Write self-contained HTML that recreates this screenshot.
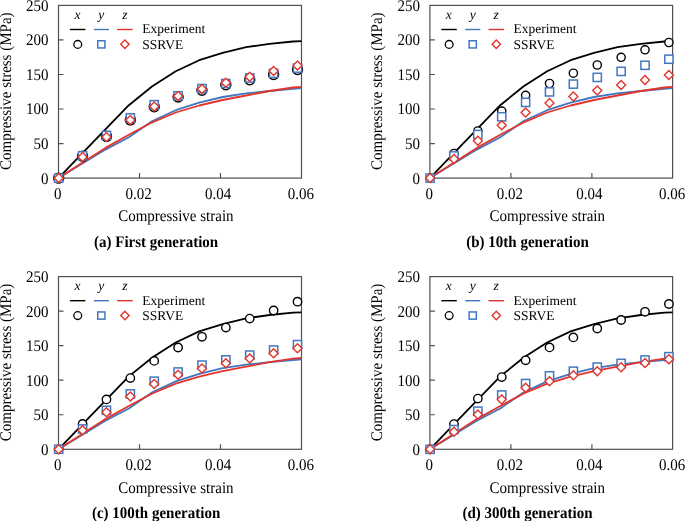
<!DOCTYPE html>
<html><head><meta charset="utf-8"><style>
html,body{margin:0;padding:0;background:#fff;}
svg{display:block;will-change:transform;}
text{text-rendering:geometricPrecision;font-family:"Liberation Serif",serif;fill:#000;}
.tl{font-size:15px;}
.lg{font-size:13.5px;}
.cap{font-size:15px;font-weight:bold;}
</style></head><body>
<svg width="685" height="521" viewBox="0 0 685 521">
<rect width="685" height="521" fill="#fff"/>
<g transform="translate(0,0)">
<rect x="58.5" y="5.4" width="243" height="172.7" fill="none" stroke="#505050" stroke-width="1.2"/>
<path d="M58.5 143.56h5 M58.5 109.02h5 M58.5 74.48h5 M58.5 39.94h5 M139.5 178.1v-5 M220.5 178.1v-5" stroke="#505050" stroke-width="1.2" fill="none"/>
<text class="tl" transform="translate(48.6,183.5) scale(1,1.08)" text-anchor="end">0</text>
<text class="tl" transform="translate(48.6,148.96) scale(1,1.08)" text-anchor="end">50</text>
<text class="tl" transform="translate(48.6,114.42) scale(1,1.08)" text-anchor="end">100</text>
<text class="tl" transform="translate(48.6,79.88) scale(1,1.08)" text-anchor="end">150</text>
<text class="tl" transform="translate(48.6,45.34) scale(1,1.08)" text-anchor="end">200</text>
<text class="tl" transform="translate(48.6,10.8) scale(1,1.08)" text-anchor="end">250</text>
<text class="tl" transform="translate(57.8,198.6) scale(1,1.08)" text-anchor="middle">0</text>
<text class="tl" transform="translate(138.55,198.6) scale(1,1.08)" text-anchor="middle">0.02</text>
<text class="tl" transform="translate(218.05,198.6) scale(1,1.08)" text-anchor="middle">0.04</text>
<text class="tl" transform="translate(300.75,198.6) scale(1,1.08)" text-anchor="middle">0.06</text>
<text class="tl" transform="translate(175.9,221.4) scale(1,1.08)" text-anchor="middle">Compressive strain</text>
<text class="tl" transform="translate(10.9,91.2) rotate(-90) scale(1,1.08)" text-anchor="middle">Compressive stress (MPa)</text>
<text class="cap" transform="translate(156.1,246.7) scale(1,1.08)" text-anchor="middle">(a) First generation</text>
<g fill="none" stroke-width="1.8" stroke-linejoin="round">
<polyline points="58.5,178.1 81.95,153.7 105.4,129.4 128.85,105.2 152.3,86.3 175.75,71.3 199.2,60.2 222.65,52.9 246.1,47.2 269.55,43.8 293,41.5 301.5,41.1" stroke="#000"/>
<polyline points="58.5,178.1 81.95,163.8 105.4,149.6 128.85,137.3 152.3,121 175.75,110.2 199.2,102.6 222.65,97 246.1,93.4 269.55,91 293,88.8 301.5,88.2" stroke="#4177C0"/>
<polyline points="58.5,178.1 81.95,163 105.4,147.9 128.85,134.8 152.3,122.3 175.75,112.5 199.2,105.5 222.65,100 246.1,95.5 269.55,91 293,87.5 301.5,86.8" stroke="#E2352B"/>
</g>
<g fill="#fff" stroke="#000" stroke-width="1.4"><circle cx="58.7" cy="178.1" r="5.0"/><circle cx="82.58" cy="156.3" r="5.0"/><circle cx="106.46" cy="136.4" r="5.0"/><circle cx="130.34" cy="119.9" r="5.0"/><circle cx="154.22" cy="106.8" r="5.0"/><circle cx="178.1" cy="97" r="5.0"/><circle cx="201.98" cy="90.3" r="5.0"/><circle cx="225.86" cy="84.7" r="5.0"/><circle cx="249.74" cy="79.8" r="5.0"/><circle cx="273.62" cy="74.5" r="5.0"/><circle cx="297.5" cy="69.5" r="5.0"/></g>
<g fill="#fff" stroke="#4177C0" stroke-width="1.5"><rect x="54.6" y="174" width="8.2" height="8.2"/><rect x="78.48" y="151.7" width="8.2" height="8.2"/><rect x="102.36" y="131.3" width="8.2" height="8.2"/><rect x="126.24" y="113.8" width="8.2" height="8.2"/><rect x="150.12" y="100.6" width="8.2" height="8.2"/><rect x="174" y="91.7" width="8.2" height="8.2"/><rect x="197.88" y="84.5" width="8.2" height="8.2"/><rect x="221.76" y="79.4" width="8.2" height="8.2"/><rect x="245.64" y="73.9" width="8.2" height="8.2"/><rect x="269.52" y="69.2" width="8.2" height="8.2"/><rect x="293.4" y="64" width="8.2" height="8.2"/></g>
<g fill="#fff" stroke="#E2352B" stroke-width="1.4"><path d="M58.7 173.6L63.2 178.1L58.7 182.6L54.2 178.1Z"/><path d="M82.58 152.4L87.08 156.9L82.58 161.4L78.08 156.9Z"/><path d="M106.46 132.5L110.96 137L106.46 141.5L101.96 137Z"/><path d="M130.34 115.6L134.84 120.1L130.34 124.6L125.84 120.1Z"/><path d="M154.22 101.9L158.72 106.4L154.22 110.9L149.72 106.4Z"/><path d="M178.1 91.6L182.6 96.1L178.1 100.6L173.6 96.1Z"/><path d="M201.98 84.4L206.48 88.9L201.98 93.4L197.48 88.9Z"/><path d="M225.86 78.3L230.36 82.8L225.86 87.3L221.36 82.8Z"/><path d="M249.74 72.3L254.24 76.8L249.74 81.3L245.24 76.8Z"/><path d="M273.62 66.5L278.12 71L273.62 75.5L269.12 71Z"/><path d="M297.5 60.9L302 65.4L297.5 69.9L293 65.4Z"/></g>
<text class="lg" transform="translate(77.4,18.9)" text-anchor="middle" font-style="italic">x</text>
<text class="lg" transform="translate(101.3,18.9)" text-anchor="middle" font-style="italic">y</text>
<text class="lg" transform="translate(124.8,18.9)" text-anchor="middle" font-style="italic">z</text>
<path d="M69.9 29.5H85.4" stroke="#000" stroke-width="1.4"/>
<path d="M93.9 29.5H108.9" stroke="#4177C0" stroke-width="1.4"/>
<path d="M117.1 29.5H132.7" stroke="#E2352B" stroke-width="1.4"/>
<circle cx="77.75" cy="44.4" r="3.9" fill="#fff" stroke="#000" stroke-width="1.3"/>
<rect x="97.75" y="40.75" width="7.2" height="7.2" fill="#fff" stroke="#4177C0" stroke-width="1.5"/>
<path d="M124.9 40.1L129.1 44.3L124.9 48.5L120.7 44.3Z" fill="#fff" stroke="#E2352B" stroke-width="1.4"/>
<text class="lg" transform="translate(142.2,33.3)">Experiment</text>
<text class="lg" transform="translate(142.2,49)">SSRVE</text>
</g>
<g transform="translate(371.4,0)">
<rect x="58.5" y="5.4" width="242.7" height="172.7" fill="none" stroke="#505050" stroke-width="1.2"/>
<path d="M58.5 143.56h5 M58.5 109.02h5 M58.5 74.48h5 M58.5 39.94h5 M139.5 178.1v-5 M220.5 178.1v-5" stroke="#505050" stroke-width="1.2" fill="none"/>
<text class="tl" transform="translate(48.6,183.5) scale(1,1.08)" text-anchor="end">0</text>
<text class="tl" transform="translate(48.6,148.96) scale(1,1.08)" text-anchor="end">50</text>
<text class="tl" transform="translate(48.6,114.42) scale(1,1.08)" text-anchor="end">100</text>
<text class="tl" transform="translate(48.6,79.88) scale(1,1.08)" text-anchor="end">150</text>
<text class="tl" transform="translate(48.6,45.34) scale(1,1.08)" text-anchor="end">200</text>
<text class="tl" transform="translate(48.6,10.8) scale(1,1.08)" text-anchor="end">250</text>
<text class="tl" transform="translate(57.8,198.6) scale(1,1.08)" text-anchor="middle">0</text>
<text class="tl" transform="translate(138.55,198.6) scale(1,1.08)" text-anchor="middle">0.02</text>
<text class="tl" transform="translate(218.05,198.6) scale(1,1.08)" text-anchor="middle">0.04</text>
<text class="tl" transform="translate(300.75,198.6) scale(1,1.08)" text-anchor="middle">0.06</text>
<text class="tl" transform="translate(175.9,221.4) scale(1,1.08)" text-anchor="middle">Compressive strain</text>
<text class="tl" transform="translate(10.9,91.2) rotate(-90) scale(1,1.08)" text-anchor="middle">Compressive stress (MPa)</text>
<text class="cap" transform="translate(156.1,246.7) scale(1,1.08)" text-anchor="middle">(b) 10th generation</text>
<g fill="none" stroke-width="1.8" stroke-linejoin="round">
<polyline points="58.5,178.1 81.95,153.7 105.4,129.4 128.85,105.2 152.3,86.3 175.75,71.3 199.2,60.2 222.65,52.9 246.1,47.2 269.55,43.8 293,41.5 301.2,41.1" stroke="#000"/>
<polyline points="58.5,178.1 81.95,163.8 105.4,149.6 128.85,137.3 152.3,121 175.75,110.2 199.2,102.6 222.65,97 246.1,93.4 269.55,91 293,88.8 301.2,88.2" stroke="#4177C0"/>
<polyline points="58.5,178.1 81.95,163 105.4,147.9 128.85,134.8 152.3,122.3 175.75,112.5 199.2,105.5 222.65,100 246.1,95.5 269.55,91 293,87.5 301.2,86.8" stroke="#E2352B"/>
</g>
<g fill="#fff" stroke="#000" stroke-width="1.4"><circle cx="58.7" cy="178.1" r="4.1"/><circle cx="82.58" cy="153.5" r="4.1"/><circle cx="106.46" cy="131" r="4.1"/><circle cx="130.34" cy="111.1" r="4.1"/><circle cx="154.22" cy="95.3" r="4.1"/><circle cx="178.1" cy="83.5" r="4.1"/><circle cx="201.98" cy="73.2" r="4.1"/><circle cx="225.86" cy="65" r="4.1"/><circle cx="249.74" cy="57.3" r="4.1"/><circle cx="273.62" cy="49.8" r="4.1"/><circle cx="297.5" cy="42.5" r="4.1"/></g>
<g fill="#fff" stroke="#4177C0" stroke-width="1.5"><rect x="54.6" y="174" width="8.2" height="8.2"/><rect x="78.48" y="151.8" width="8.2" height="8.2"/><rect x="102.36" y="130.4" width="8.2" height="8.2"/><rect x="126.24" y="112.7" width="8.2" height="8.2"/><rect x="150.12" y="98.3" width="8.2" height="8.2"/><rect x="174" y="87.8" width="8.2" height="8.2"/><rect x="197.88" y="80" width="8.2" height="8.2"/><rect x="221.76" y="73.3" width="8.2" height="8.2"/><rect x="245.64" y="67.3" width="8.2" height="8.2"/><rect x="269.52" y="61.2" width="8.2" height="8.2"/><rect x="293.4" y="55.1" width="8.2" height="8.2"/></g>
<g fill="#fff" stroke="#E2352B" stroke-width="1.4"><path d="M58.7 173.6L63.2 178.1L58.7 182.6L54.2 178.1Z"/><path d="M82.58 154.5L87.08 159L82.58 163.5L78.08 159Z"/><path d="M106.46 136.3L110.96 140.8L106.46 145.3L101.96 140.8Z"/><path d="M130.34 120.7L134.84 125.2L130.34 129.7L125.84 125.2Z"/><path d="M154.22 107.9L158.72 112.4L154.22 116.9L149.72 112.4Z"/><path d="M178.1 98.5L182.6 103L178.1 107.5L173.6 103Z"/><path d="M201.98 91.9L206.48 96.4L201.98 100.9L197.48 96.4Z"/><path d="M225.86 85.9L230.36 90.4L225.86 94.9L221.36 90.4Z"/><path d="M249.74 80.6L254.24 85.1L249.74 89.6L245.24 85.1Z"/><path d="M273.62 75.5L278.12 80L273.62 84.5L269.12 80Z"/><path d="M297.5 70.5L302 75L297.5 79.5L293 75Z"/></g>
<text class="lg" transform="translate(77.4,18.9)" text-anchor="middle" font-style="italic">x</text>
<text class="lg" transform="translate(101.3,18.9)" text-anchor="middle" font-style="italic">y</text>
<text class="lg" transform="translate(124.8,18.9)" text-anchor="middle" font-style="italic">z</text>
<path d="M69.9 29.5H85.4" stroke="#000" stroke-width="1.4"/>
<path d="M93.9 29.5H108.9" stroke="#4177C0" stroke-width="1.4"/>
<path d="M117.1 29.5H132.7" stroke="#E2352B" stroke-width="1.4"/>
<circle cx="77.75" cy="44.4" r="3.9" fill="#fff" stroke="#000" stroke-width="1.3"/>
<rect x="97.75" y="40.75" width="7.2" height="7.2" fill="#fff" stroke="#4177C0" stroke-width="1.5"/>
<path d="M124.9 40.1L129.1 44.3L124.9 48.5L120.7 44.3Z" fill="#fff" stroke="#E2352B" stroke-width="1.4"/>
<text class="lg" transform="translate(142.2,33.3)">Experiment</text>
<text class="lg" transform="translate(142.2,49)">SSRVE</text>
</g>
<g transform="translate(0,271.2)">
<rect x="58.5" y="5.4" width="243" height="172.7" fill="none" stroke="#505050" stroke-width="1.2"/>
<path d="M58.5 143.56h5 M58.5 109.02h5 M58.5 74.48h5 M58.5 39.94h5 M139.5 178.1v-5 M220.5 178.1v-5" stroke="#505050" stroke-width="1.2" fill="none"/>
<text class="tl" transform="translate(48.6,183.5) scale(1,1.08)" text-anchor="end">0</text>
<text class="tl" transform="translate(48.6,148.96) scale(1,1.08)" text-anchor="end">50</text>
<text class="tl" transform="translate(48.6,114.42) scale(1,1.08)" text-anchor="end">100</text>
<text class="tl" transform="translate(48.6,79.88) scale(1,1.08)" text-anchor="end">150</text>
<text class="tl" transform="translate(48.6,45.34) scale(1,1.08)" text-anchor="end">200</text>
<text class="tl" transform="translate(48.6,10.8) scale(1,1.08)" text-anchor="end">250</text>
<text class="tl" transform="translate(57.8,198.6) scale(1,1.08)" text-anchor="middle">0</text>
<text class="tl" transform="translate(138.55,198.6) scale(1,1.08)" text-anchor="middle">0.02</text>
<text class="tl" transform="translate(218.05,198.6) scale(1,1.08)" text-anchor="middle">0.04</text>
<text class="tl" transform="translate(300.75,198.6) scale(1,1.08)" text-anchor="middle">0.06</text>
<text class="tl" transform="translate(175.9,221.4) scale(1,1.08)" text-anchor="middle">Compressive strain</text>
<text class="tl" transform="translate(10.9,91.2) rotate(-90) scale(1,1.08)" text-anchor="middle">Compressive stress (MPa)</text>
<text class="cap" transform="translate(156.1,246.7) scale(1,1.08)" text-anchor="middle">(c) 100th generation</text>
<g fill="none" stroke-width="1.8" stroke-linejoin="round">
<polyline points="58.5,178.1 81.95,153.7 105.4,129.4 128.85,105.2 152.3,86.3 175.75,71.3 199.2,60.2 222.65,52.9 246.1,47.2 269.55,43.8 293,41.5 301.5,41.1" stroke="#000"/>
<polyline points="58.5,178.1 81.95,163.8 105.4,149.6 128.85,137.3 152.3,121 175.75,110.2 199.2,102.6 222.65,97 246.1,93.4 269.55,91 293,88.8 301.5,88.2" stroke="#4177C0"/>
<polyline points="58.5,178.1 81.95,163 105.4,147.9 128.85,134.8 152.3,122.3 175.75,112.5 199.2,105.5 222.65,100 246.1,95.5 269.55,91 293,87.5 301.5,86.8" stroke="#E2352B"/>
</g>
<g fill="#fff" stroke="#000" stroke-width="1.4"><circle cx="58.7" cy="178.1" r="4.2"/><circle cx="82.58" cy="152.7" r="4.2"/><circle cx="106.46" cy="128.2" r="4.2"/><circle cx="130.34" cy="106.9" r="4.2"/><circle cx="154.22" cy="89.7" r="4.2"/><circle cx="178.1" cy="76.3" r="4.2"/><circle cx="201.98" cy="65.6" r="4.2"/><circle cx="225.86" cy="56.4" r="4.2"/><circle cx="249.74" cy="47.4" r="4.2"/><circle cx="273.62" cy="39.3" r="4.2"/><circle cx="297.5" cy="30.5" r="4.2"/></g>
<g fill="#fff" stroke="#4177C0" stroke-width="1.5"><rect x="54.6" y="174" width="8.2" height="8.2"/><rect x="78.48" y="153.7" width="8.2" height="8.2"/><rect x="102.36" y="135" width="8.2" height="8.2"/><rect x="126.24" y="118.6" width="8.2" height="8.2"/><rect x="150.12" y="105.9" width="8.2" height="8.2"/><rect x="174" y="96.7" width="8.2" height="8.2"/><rect x="197.88" y="89.8" width="8.2" height="8.2"/><rect x="221.76" y="84.6" width="8.2" height="8.2"/><rect x="245.64" y="79.8" width="8.2" height="8.2"/><rect x="269.52" y="74.7" width="8.2" height="8.2"/><rect x="293.4" y="69.3" width="8.2" height="8.2"/></g>
<g fill="#fff" stroke="#E2352B" stroke-width="1.4"><path d="M58.7 173.6L63.2 178.1L58.7 182.6L54.2 178.1Z"/><path d="M82.58 154.6L87.08 159.1L82.58 163.6L78.08 159.1Z"/><path d="M106.46 136.5L110.96 141L106.46 145.5L101.96 141Z"/><path d="M130.34 120.7L134.84 125.2L130.34 129.7L125.84 125.2Z"/><path d="M154.22 108.3L158.72 112.8L154.22 117.3L149.72 112.8Z"/><path d="M178.1 99L182.6 103.5L178.1 108L173.6 103.5Z"/><path d="M201.98 92.9L206.48 97.4L201.98 101.9L197.48 97.4Z"/><path d="M225.86 87.5L230.36 92L225.86 96.5L221.36 92Z"/><path d="M249.74 82.7L254.24 87.2L249.74 91.7L245.24 87.2Z"/><path d="M273.62 77.6L278.12 82.1L273.62 86.6L269.12 82.1Z"/><path d="M297.5 72.5L302 77L297.5 81.5L293 77Z"/></g>
<text class="lg" transform="translate(77.4,18.9)" text-anchor="middle" font-style="italic">x</text>
<text class="lg" transform="translate(101.3,18.9)" text-anchor="middle" font-style="italic">y</text>
<text class="lg" transform="translate(124.8,18.9)" text-anchor="middle" font-style="italic">z</text>
<path d="M69.9 29.5H85.4" stroke="#000" stroke-width="1.4"/>
<path d="M93.9 29.5H108.9" stroke="#4177C0" stroke-width="1.4"/>
<path d="M117.1 29.5H132.7" stroke="#E2352B" stroke-width="1.4"/>
<circle cx="77.75" cy="44.4" r="3.9" fill="#fff" stroke="#000" stroke-width="1.3"/>
<rect x="97.75" y="40.75" width="7.2" height="7.2" fill="#fff" stroke="#4177C0" stroke-width="1.5"/>
<path d="M124.9 40.1L129.1 44.3L124.9 48.5L120.7 44.3Z" fill="#fff" stroke="#E2352B" stroke-width="1.4"/>
<text class="lg" transform="translate(142.2,33.3)">Experiment</text>
<text class="lg" transform="translate(142.2,49)">SSRVE</text>
</g>
<g transform="translate(371.4,271.2)">
<rect x="58.5" y="5.4" width="242.7" height="172.7" fill="none" stroke="#505050" stroke-width="1.2"/>
<path d="M58.5 143.56h5 M58.5 109.02h5 M58.5 74.48h5 M58.5 39.94h5 M139.5 178.1v-5 M220.5 178.1v-5" stroke="#505050" stroke-width="1.2" fill="none"/>
<text class="tl" transform="translate(48.6,183.5) scale(1,1.08)" text-anchor="end">0</text>
<text class="tl" transform="translate(48.6,148.96) scale(1,1.08)" text-anchor="end">50</text>
<text class="tl" transform="translate(48.6,114.42) scale(1,1.08)" text-anchor="end">100</text>
<text class="tl" transform="translate(48.6,79.88) scale(1,1.08)" text-anchor="end">150</text>
<text class="tl" transform="translate(48.6,45.34) scale(1,1.08)" text-anchor="end">200</text>
<text class="tl" transform="translate(48.6,10.8) scale(1,1.08)" text-anchor="end">250</text>
<text class="tl" transform="translate(57.8,198.6) scale(1,1.08)" text-anchor="middle">0</text>
<text class="tl" transform="translate(138.55,198.6) scale(1,1.08)" text-anchor="middle">0.02</text>
<text class="tl" transform="translate(218.05,198.6) scale(1,1.08)" text-anchor="middle">0.04</text>
<text class="tl" transform="translate(300.75,198.6) scale(1,1.08)" text-anchor="middle">0.06</text>
<text class="tl" transform="translate(175.9,221.4) scale(1,1.08)" text-anchor="middle">Compressive strain</text>
<text class="tl" transform="translate(10.9,91.2) rotate(-90) scale(1,1.08)" text-anchor="middle">Compressive stress (MPa)</text>
<text class="cap" transform="translate(156.1,246.7) scale(1,1.08)" text-anchor="middle">(d) 300th generation</text>
<g fill="none" stroke-width="1.8" stroke-linejoin="round">
<polyline points="58.5,178.1 81.95,153.7 105.4,129.4 128.85,105.2 152.3,86.3 175.75,71.3 199.2,60.2 222.65,52.9 246.1,47.2 269.55,43.8 293,41.5 301.2,41.1" stroke="#000"/>
<polyline points="58.5,178.1 81.95,163.8 105.4,149.6 128.85,137.3 152.3,121 175.75,110.2 199.2,102.6 222.65,97 246.1,93.4 269.55,91 293,88.8 301.2,88.2" stroke="#4177C0"/>
<polyline points="58.5,178.1 81.95,163 105.4,147.9 128.85,134.8 152.3,122.3 175.75,112.5 199.2,105.5 222.65,100 246.1,95.5 269.55,91 293,87.5 301.2,86.8" stroke="#E2352B"/>
</g>
<g fill="#fff" stroke="#000" stroke-width="1.4"><circle cx="58.7" cy="178.1" r="4.2"/><circle cx="82.58" cy="152.9" r="4.2"/><circle cx="106.46" cy="127.4" r="4.2"/><circle cx="130.34" cy="105.9" r="4.2"/><circle cx="154.22" cy="89.1" r="4.2"/><circle cx="178.1" cy="76.2" r="4.2"/><circle cx="201.98" cy="66.2" r="4.2"/><circle cx="225.86" cy="57.3" r="4.2"/><circle cx="249.74" cy="48.8" r="4.2"/><circle cx="273.62" cy="40.6" r="4.2"/><circle cx="297.5" cy="32.8" r="4.2"/></g>
<g fill="#fff" stroke="#4177C0" stroke-width="1.5"><rect x="54.6" y="174" width="8.2" height="8.2"/><rect x="78.48" y="154.3" width="8.2" height="8.2"/><rect x="102.36" y="135.9" width="8.2" height="8.2"/><rect x="126.24" y="119.7" width="8.2" height="8.2"/><rect x="150.12" y="108.2" width="8.2" height="8.2"/><rect x="174" y="100.5" width="8.2" height="8.2"/><rect x="197.88" y="95.9" width="8.2" height="8.2"/><rect x="221.76" y="91.8" width="8.2" height="8.2"/><rect x="245.64" y="88.1" width="8.2" height="8.2"/><rect x="269.52" y="84.7" width="8.2" height="8.2"/><rect x="293.4" y="81.4" width="8.2" height="8.2"/></g>
<g fill="#fff" stroke="#E2352B" stroke-width="1.4"><path d="M58.7 173.6L63.2 178.1L58.7 182.6L54.2 178.1Z"/><path d="M82.58 156L87.08 160.5L82.58 165L78.08 160.5Z"/><path d="M106.46 138.9L110.96 143.4L106.46 147.9L101.96 143.4Z"/><path d="M130.34 123.7L134.84 128.2L130.34 132.7L125.84 128.2Z"/><path d="M154.22 112.1L158.72 116.6L154.22 121.1L149.72 116.6Z"/><path d="M178.1 105.6L182.6 110.1L178.1 114.6L173.6 110.1Z"/><path d="M201.98 99.6L206.48 104.1L201.98 108.6L197.48 104.1Z"/><path d="M225.86 95.5L230.36 100L225.86 104.5L221.36 100Z"/><path d="M249.74 91.5L254.24 96L249.74 100.5L245.24 96Z"/><path d="M273.62 87.4L278.12 91.9L273.62 96.4L269.12 91.9Z"/><path d="M297.5 83.5L302 88L297.5 92.5L293 88Z"/></g>
<text class="lg" transform="translate(77.4,18.9)" text-anchor="middle" font-style="italic">x</text>
<text class="lg" transform="translate(101.3,18.9)" text-anchor="middle" font-style="italic">y</text>
<text class="lg" transform="translate(124.8,18.9)" text-anchor="middle" font-style="italic">z</text>
<path d="M69.9 29.5H85.4" stroke="#000" stroke-width="1.4"/>
<path d="M93.9 29.5H108.9" stroke="#4177C0" stroke-width="1.4"/>
<path d="M117.1 29.5H132.7" stroke="#E2352B" stroke-width="1.4"/>
<circle cx="77.75" cy="44.4" r="3.9" fill="#fff" stroke="#000" stroke-width="1.3"/>
<rect x="97.75" y="40.75" width="7.2" height="7.2" fill="#fff" stroke="#4177C0" stroke-width="1.5"/>
<path d="M124.9 40.1L129.1 44.3L124.9 48.5L120.7 44.3Z" fill="#fff" stroke="#E2352B" stroke-width="1.4"/>
<text class="lg" transform="translate(142.2,33.3)">Experiment</text>
<text class="lg" transform="translate(142.2,49)">SSRVE</text>
</g>
</svg>
</body></html>
